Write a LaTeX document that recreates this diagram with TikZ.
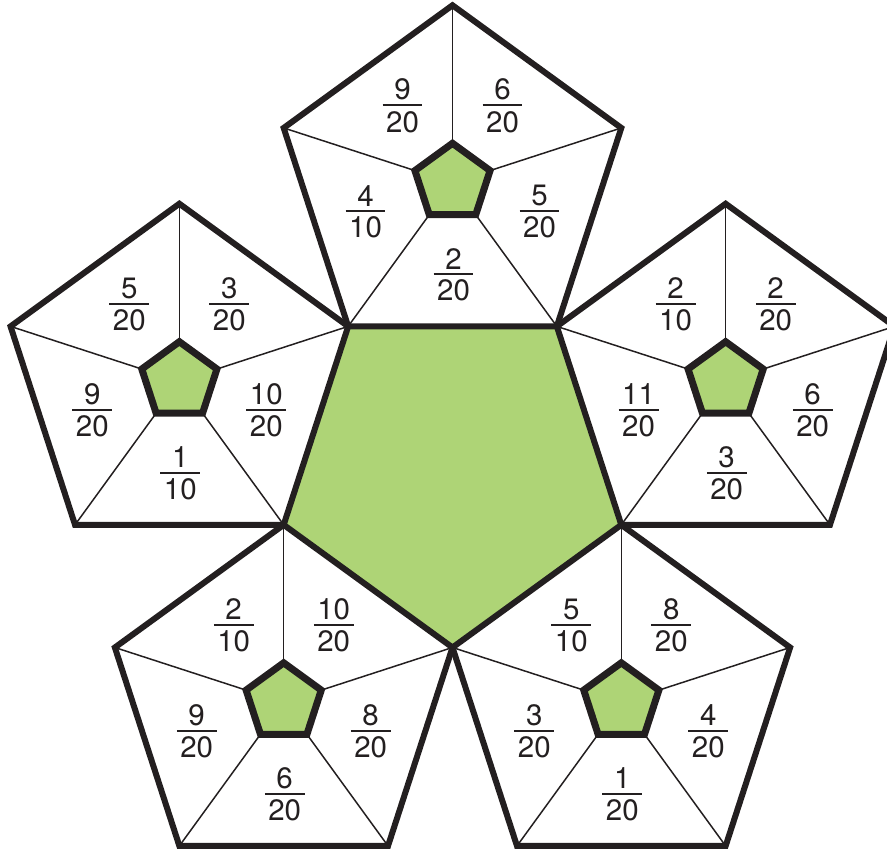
\documentclass[tikz,border=0pt]{standalone}
\usepackage{fontspec}
\setmainfont{TeX Gyre Heros}
\usetikzlibrary{calc}
\definecolor{pgreen}{RGB}{174,212,118}
\definecolor{pblack}{RGB}{35,31,32}
\newcommand{\fr}[2]{\vbox{\halign{\hfil##\hfil\cr #1\cr\noalign{\kern4pt\hrule height 2pt\kern5pt}\hskip3.5pt#2\hskip3.5pt\cr}}}
\def\R{177.5}
\def\r{39.5}
\tikzset{
  midpent/.style={fill=pgreen},
  outerpent/.style={draw=pblack, line width=6pt},
  smallpent/.style={draw=pblack, fill=pgreen, line width=7pt},
  spoke/.style={draw=pblack, line width=1.5pt},
  frac/.style={inner sep=0pt, text=pblack, font=\fontsize{29.5}{34}\selectfont}
}

\begin{document}
\begin{tikzpicture}[x=1pt,y=1pt]
\useasboundingbox (0,0) rectangle (887,850);
\coordinate (c) at (452.5,380);

% big green pentagon in the middle
\path[midpent, shift={(c)}] (270:\R) -- (342:\R) -- (54:\R) -- (126:\R) -- (198:\R) -- cycle;

% the five pentagons round it
\foreach \t/\n in {90/top,18/right,162/left,234/botleft,306/botright} {
  \coordinate (\n) at ($(c)+(\t:287.2)$);
  \begin{scope}[shift={(\n)}]
    \foreach \a in {90,162,234,306,18}
      \draw[spoke] (\a:\R) -- (\a:\r);
    \draw[outerpent] (90:\R) -- (162:\R) -- (234:\R) -- (306:\R) -- (18:\R) -- cycle;
    \draw[smallpent] (90:\r) -- (162:\r) -- (234:\r) -- (306:\r) -- (18:\r) -- cycle;
  \end{scope}
}

% fractions
\node[frac] (top-ul) at ($(top)+(-50,77)$) {\fr{9}{20}};
\node[frac] (top-ur) at ($(top)+(50,77)$) {\fr{6}{20}};
\node[frac] (top-l) at ($(top)+(-87,-29)$) {\fr{4}{10}};
\node[frac] (top-r) at ($(top)+(87,-29)$) {\fr{5}{20}};
\node[frac] (top-b) at ($(top)+(1,-92)$) {\fr{2}{20}};

\node[frac] (left-ul) at ($(left)+(-50,77)$) {\fr{5}{20}};
\node[frac] (left-ur) at ($(left)+(50,77)$) {\fr{3}{20}};
\node[frac] (left-l) at ($(left)+(-87,-29)$) {\fr{9}{20}};
\node[frac] (left-r) at ($(left)+(87,-29)$) {\fr{10}{20}};
\node[frac] (left-b) at ($(left)+(1,-92)$) {\fr{1}{10}};

\node[frac] (right-ul) at ($(right)+(-50,77)$) {\fr{2}{10}};
\node[frac] (right-ur) at ($(right)+(50,77)$) {\fr{2}{20}};
\node[frac] (right-l) at ($(right)+(-87,-29)$) {\fr{11}{20}};
\node[frac] (right-r) at ($(right)+(87,-29)$) {\fr{6}{20}};
\node[frac] (right-b) at ($(right)+(1,-92)$) {\fr{3}{20}};

\node[frac] (botleft-ul) at ($(botleft)+(-50,77)$) {\fr{2}{10}};
\node[frac] (botleft-ur) at ($(botleft)+(50,77)$) {\fr{10}{20}};
\node[frac] (botleft-l) at ($(botleft)+(-87,-29)$) {\fr{9}{20}};
\node[frac] (botleft-r) at ($(botleft)+(87,-29)$) {\fr{8}{20}};
\node[frac] (botleft-b) at ($(botleft)+(1,-92)$) {\fr{6}{20}};

\node[frac] (botright-ul) at ($(botright)+(-50,77)$) {\fr{5}{10}};
\node[frac] (botright-ur) at ($(botright)+(50,77)$) {\fr{8}{20}};
\node[frac] (botright-l) at ($(botright)+(-87,-29)$) {\fr{3}{20}};
\node[frac] (botright-r) at ($(botright)+(87,-29)$) {\fr{4}{20}};
\node[frac] (botright-b) at ($(botright)+(1,-92)$) {\fr{1}{20}};
\end{tikzpicture}
\end{document}
